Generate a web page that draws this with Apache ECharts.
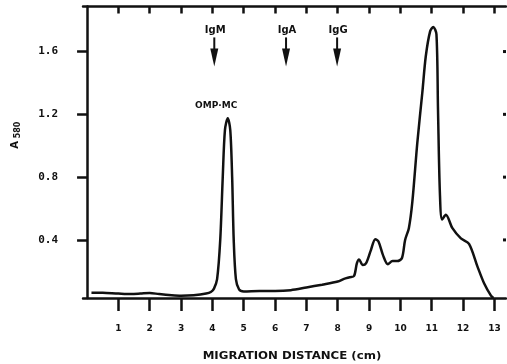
<!DOCTYPE html>
<html>
<head>
<meta charset="utf-8">
<script src="https://cdn.jsdelivr.net/npm/echarts@6/dist/echarts.min.js"></script>
<style>
html, body { margin: 0; padding: 0; background: #fff; }
#chart { width: 507px; height: 364px; }
</style>
</head>
<body>
<div id="chart"></div>
<script>
// migration distance (cm) and absorbance
const distance = [
  0.14, 0.5, 1.0, 1.4, 1.7, 2.0, 2.3, 2.7, 3.0, 3.4, 3.8, 3.95,
  4.05, 4.15, 4.25, 4.33, 4.40, 4.49, 4.57, 4.63, 4.68, 4.75, 4.85, 5.0,
  5.5, 6.0, 6.5, 7.0, 7.5, 8.0, 8.2, 8.38, 8.52, 8.61, 8.68, 8.8,
  8.9, 9.05, 9.2, 9.3, 9.45, 9.6, 9.75, 9.9, 10.05, 10.15, 10.27, 10.38,
  10.54, 10.7, 10.81, 10.95, 11.05, 11.15, 11.2, 11.26, 11.33, 11.45, 11.66, 11.93,
  12.19, 12.46, 12.67, 12.89, 12.97
];
const absorbance = [
  0.064, 0.063, 0.058, 0.055, 0.058, 0.062, 0.055, 0.048, 0.045, 0.048, 0.058, 0.068,
  0.09, 0.15, 0.40, 0.80, 1.10, 1.175, 1.10, 0.80, 0.40, 0.15, 0.085, 0.072,
  0.075, 0.075, 0.08, 0.097, 0.115, 0.135, 0.152, 0.162, 0.17, 0.25, 0.275, 0.24,
  0.25, 0.33, 0.405, 0.39, 0.30, 0.245, 0.265, 0.265, 0.285, 0.40, 0.475, 0.64,
  1.02, 1.34, 1.57, 1.73, 1.757, 1.71, 1.23, 0.70, 0.53, 0.56, 0.475, 0.41,
  0.375, 0.23, 0.124, 0.045, 0.03
];

const xTicks = [1, 2, 3, 4, 5, 6, 7, 8, 9, 10, 11, 12, 13];
const yTicks = [0.4, 0.8, 1.2, 1.6];

// reference positions of the immunoglobulin classes
const markerNames = ['IgM', 'IgA', 'IgG'];
const markerPos = [4.06, 6.35, 7.98];
const markerLevel = 1.69;

const peakLabel = 'OMP·MC';
const peakLabelPos = [4.12, 1.255];

const xMin = -0.13, xMax = 13.37;
const ink = '#111';
const chart = echarts.init(document.getElementById('chart'));

const option = {
  animation: false,
  grid: { left: 83, right: 1, top: 6.5, bottom: 66 },
  xAxis: [
    {
      type: 'value', min: xMin, max: xMax, position: 'bottom',
      splitLine: { show: false },
      axisLine: { show: true, lineStyle: { color: ink, width: 2.5 } },
      axisTick: { show: true, customValues: xTicks, length: 13, lineStyle: { color: ink, width: 2.5 } },
      axisLabel: {
        customValues: xTicks, margin: 26, color: ink,
        fontFamily: 'DejaVu Sans', fontWeight: 'bold', fontSize: 9
      }
    },
    {
      type: 'value', min: xMin, max: xMax, position: 'top',
      splitLine: { show: false },
      axisLine: { show: true, lineStyle: { color: ink, width: 2.5 } },
      axisTick: { show: true, inside: true, customValues: xTicks, length: 7, lineStyle: { color: ink, width: 2.5 } },
      axisLabel: { show: false }
    }
  ],
  yAxis: {
    type: 'value', min: 0.03, max: 1.887, position: 'left',
    splitLine: { show: false },
    axisLine: { show: true, lineStyle: { color: ink, width: 2.5 } },
    axisTick: { show: true, customValues: yTicks, length: 10, lineStyle: { color: ink, width: 2.5 } },
    axisLabel: {
      customValues: yTicks, margin: 25, color: ink,
      fontFamily: 'DejaVu Sans Mono', fontWeight: 'bold', fontSize: 11,
      formatter: v => v.toFixed(1)
    }
  },
  graphic: [
    {
      type: 'text', x: 292, y: 356.5, scaleX: 1.12,
      style: {
        text: 'MIGRATION DISTANCE (cm)', fill: ink,
        font: 'bold 10.5px "DejaVu Sans"', align: 'center', verticalAlign: 'middle'
      }
    },
    {
      type: 'text', x: 15, y: 145, rotation: Math.PI / 2,
      style: { text: 'A', fill: ink, font: 'bold 10px "DejaVu Sans"', align: 'center', verticalAlign: 'middle' }
    },
    {
      type: 'text', x: 18, y: 130, rotation: Math.PI / 2,
      style: { text: '580', fill: ink, font: 'bold 8px "DejaVu Sans"', align: 'center', verticalAlign: 'middle' }
    }
  ],
  series: [
    {
      type: 'line',
      data: distance.map((d, i) => [d, absorbance[i]]),
      symbol: 'none',
      smooth: 0.3,
      lineStyle: { color: ink, width: 2.5 },
      markPoint: {
        symbol: 'circle', symbolSize: 0, silent: true,
        data: [{ name: peakLabel, coord: peakLabelPos }],
        label: {
          show: true, position: 'inside', formatter: '{b}', color: ink,
          fontFamily: 'DejaVu Sans', fontWeight: 'bold', fontSize: 9
        }
      }
    },
    {
      // arrows marking IgM / IgA / IgG
      type: 'custom',
      silent: true,
      data: markerPos.map(x => [x, markerLevel]),
      renderItem: (params, api) => {
        const p = api.coord([api.value(0), api.value(1)]);
        return {
          type: 'group',
          children: [
            {
              type: 'text', x: p[0] + 1, y: p[1] - 7,
              style: {
                text: markerNames[params.dataIndex], fill: ink,
                font: 'bold 10px "DejaVu Sans"', align: 'center', verticalAlign: 'middle'
              }
            },
            {
              type: 'line',
              shape: { x1: p[0], y1: p[1], x2: p[0], y2: p[1] + 13 },
              style: { stroke: ink, lineWidth: 2 }
            },
            {
              type: 'polygon',
              shape: { points: [[p[0] - 4, p[1] + 11], [p[0] + 4, p[1] + 11], [p[0], p[1] + 29]] },
              style: { fill: ink }
            }
          ]
        };
      }
    },
    {
      // small tick dots along the right edge
      type: 'custom',
      silent: true,
      data: yTicks.map(v => [xMax, v]),
      renderItem: (params, api) => {
        const p = api.coord([api.value(0), api.value(1)]);
        return {
          type: 'rect',
          shape: { x: p[0] - 3, y: p[1] - 1.5, width: 3, height: 3 },
          style: { fill: ink }
        };
      }
    }
  ]
};

chart.setOption(option);
</script>
</body>
</html>
